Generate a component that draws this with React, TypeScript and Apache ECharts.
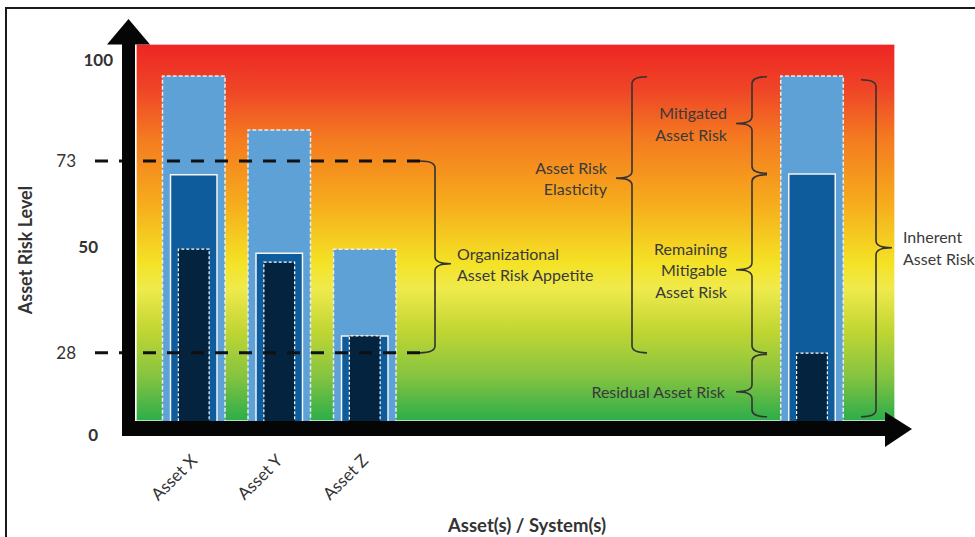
import React, { useEffect, useRef } from 'react';
import * as echarts from 'echarts';

// ---------- data ----------
const categories = ['Asset X', 'Asset Y', 'Asset Z'];
const inherentRisk = [95.9, 81.5, 49.6];
const currentRisk = [69.5, 48.5, 26.4];
const residualRisk = [49.6, 46.1, 26.4];

const exampleCategory = [''];
const exampleInherent = [95.9];
const exampleCurrent = [69.7];
const exampleResidual = [21.8];

const tickValues = [0, 21.7, 50, 73, 100];
const tickLabels = ['0', '28', '50', '73', '100'];

const appetiteLevels = [73, 21.7];

const braceLabels = [
  'Organizational\nAsset Risk Appetite',
  'Asset Risk\nElasticity',
  'Mitigated\nAsset Risk',
  'Remaining\nMitigable\nAsset Risk',
  'Residual Asset Risk',
  'Inherent\nAsset Risk',
];
const braceTop = [73, 95.5, 95.5, 69.3, 21.3, 94.7];
const braceBottom = [21.7, 21.7, 69.7, 21.7, 4.6, 4.6];
const braceTip = [45.5, 68.4, 83, 43.9, 11.3, 49.8];

// ---------- layout / style (not data) ----------
const FONT = 'Lato, "Open Sans", sans-serif';
const TEXT = '#3a3a3a';
const BRACE_LAYOUT = [
  { x: 435, dir: 1, tx: 457 },
  { x: 632, dir: -1, tx: 607 },
  { x: 752, dir: -1, tx: 727 },
  { x: 752, dir: -1, tx: 727 },
  { x: 752, dir: -1, tx: 725 },
  { x: 876, dir: 1, tx: 903 },
];
const TICK_STYLE: Record<string, string> = { '100': 't', '73': 'n', '50': 'b', '28': 'n', '0': 'b' };

const Y_MAX = 104;
const GRID_TOP = 45;
const GRID_H = 389;

const C_OUTER = '#5DA1D6';
const C_MID = '#0E5C9C';
const C_INNER = '#03233F';

function barSeries(name: string, data: number[], xi: number, yi: number, width: number, color: string, border: any) {
  return {
    name,
    type: 'bar',
    xAxisIndex: xi,
    yAxisIndex: yi,
    barWidth: width,
    data,
    z: 2,
    itemStyle: { color, ...border },
  };
}

const outerBorder = { borderColor: '#EDEDED', borderWidth: 1.5, borderType: [4, 2] };
const midBorder = { borderColor: '#F4F4F4', borderWidth: 1.5, borderType: 'solid' };
const innerBorder = { borderColor: '#FFFFFF', borderWidth: 1.2, borderType: [3, 2] };

function hiddenX(grid: number, data: string[]) {
  return { type: 'category', gridIndex: grid, data, show: false };
}

export default function App() {
  const ref = useRef<HTMLDivElement>(null);
  useEffect(() => {
    const chart = echarts.init(ref.current!, null, { renderer: 'svg' });

    const gradient = new echarts.graphic.LinearGradient(0, 0, 0, 1, [
      { offset: 0, color: '#EE2524' },
      { offset: 0.12, color: '#EF4527' },
      { offset: 0.25, color: '#F47A20' },
      { offset: 0.42, color: '#F6AB1C' },
      { offset: 0.58, color: '#F4E225' },
      { offset: 0.65, color: '#EFEA4C' },
      { offset: 0.76, color: '#C1D633' },
      { offset: 0.88, color: '#86C440' },
      { offset: 1, color: '#2BAD4A' },
    ]);

    const option: any = {
      animation: false,
      grid: [
        { left: 151, width: 256.5, top: GRID_TOP, height: GRID_H },
        { left: 780, width: 64, top: GRID_TOP, height: GRID_H },
      ],
      xAxis: [
        {
          type: 'category',
          gridIndex: 0,
          data: categories,
          axisLine: { show: false },
          axisTick: { show: false },
          splitLine: { show: false },
          axisLabel: {
            rotate: 45,
            margin: 23,
            interval: 0,
            fontSize: 17,
            fontFamily: FONT,
            color: '#333',
          },
        },
        hiddenX(0, categories),
        hiddenX(0, categories),
        hiddenX(1, exampleCategory),
        hiddenX(1, exampleCategory),
        hiddenX(1, exampleCategory),
      ],
      yAxis: [
        {
          type: 'value',
          gridIndex: 0,
          min: 0,
          max: Y_MAX,
          axisLine: { show: false },
          axisTick: { show: false },
          splitLine: { show: false },
          axisLabel: {
            customValues: tickValues,
            margin: 38,
            formatter: (v: number) => {
              const i = tickValues.findIndex((t) => Math.abs(t - v) < 1e-6);
              const lbl = i >= 0 ? tickLabels[i] : '';
              return `{${TICK_STYLE[lbl] || 'n'}|${lbl}}`;
            },
            rich: {
              t: { fontFamily: FONT, fontSize: 17, fontWeight: 'bold', color: '#333' },
              b: { fontFamily: FONT, fontSize: 17, fontWeight: 'bold', color: '#333', padding: [0, 15, 0, 0] },
              n: { fontFamily: FONT, fontSize: 17, color: '#333', padding: [0, 37, 0, 0] },
            },
          },
        },
        { type: 'value', gridIndex: 1, min: 0, max: Y_MAX, show: false },
      ],
      series: [
        barSeries('Inherent Asset Risk', inherentRisk, 0, 0, 64, C_OUTER, outerBorder),
        barSeries('Current Asset Risk', currentRisk, 1, 0, 48, C_MID, midBorder),
        barSeries('Residual Asset Risk', residualRisk, 2, 0, 32, C_INNER, innerBorder),
        barSeries('Inherent (example)', exampleInherent, 3, 1, 64, C_OUTER, outerBorder),
        barSeries('Current (example)', exampleCurrent, 4, 1, 48, C_MID, midBorder),
        barSeries('Residual (example)', exampleResidual, 5, 1, 32, C_INNER, innerBorder),
        {
          type: 'custom',
          name: 'Appetite thresholds',
          xAxisIndex: 0,
          yAxisIndex: 0,
          z: 5,
          data: appetiteLevels.map((v) => [0, v]),
          renderItem: (_p: any, api: any) => {
            const y = api.coord([0, api.value(1)])[1];
            return {
              type: 'line',
              shape: { x1: 95, y1: y, x2: 420, y2: y },
              style: { stroke: '#111', lineWidth: 3, lineDash: [13, 11] },
            };
          },
        },
        {
          type: 'custom',
          name: 'Braces',
          xAxisIndex: 0,
          yAxisIndex: 0,
          z: 5,
          data: braceTop.map((t, i) => [0, t, braceBottom[i], braceTip[i]]),
          renderItem: (params: any, api: any) => {
            const i = params.dataIndex;
            const yT = api.coord([0, api.value(1)])[1];
            const yB = api.coord([0, api.value(2)])[1];
            const yM = api.coord([0, api.value(3)])[1];
            const { x, dir, tx: textX } = BRACE_LAYOUT[i];
            const hx = x - dir * 15;
            const tx = x + dir * 16;
            const r = 7;
            const d =
              `M${hx},${yT} Q${x},${yT} ${x},${yT + r} L${x},${yM - r} ` +
              `Q${x},${yM} ${tx},${yM} Q${x},${yM} ${x},${yM + r} ` +
              `L${x},${yB - r} Q${x},${yB} ${hx},${yB}`;
            return {
              type: 'group',
              children: [
                {
                  type: 'path',
                  shape: { pathData: d },
                  style: { stroke: '#333', lineWidth: 1.6, fill: null },
                },
                {
                  type: 'text',
                  style: {
                    text: braceLabels[i],
                    x: textX,
                    y: yM,
                    align: dir === 1 ? 'left' : 'right',
                    verticalAlign: 'middle',
                    fontFamily: FONT,
                    fontSize: 16,
                    lineHeight: 21.5,
                    fill: TEXT,
                  },
                },
              ],
            };
          },
        },
      ],
      graphic: [
        {
          type: 'rect',
          z: 0,
          shape: { x: 6, y: 8, width: 1000, height: 600 },
          style: { fill: 'none', stroke: '#1a1a1a', lineWidth: 2 },
        },
        {
          type: 'rect',
          z: 0,
          shape: { x: 136, y: 44, width: 759, height: 377 },
          style: { fill: gradient, stroke: 'rgba(255,255,255,0.85)', lineWidth: 1.5 },
        },
        { type: 'rect', z: 10, shape: { x: 122, y: 44, width: 13, height: 392 }, style: { fill: '#050505' } },
        {
          type: 'polygon',
          z: 10,
          shape: { points: [[107, 44.5], [128.5, 19], [150, 44.5]] },
          style: { fill: '#050505' },
        },
        { type: 'rect', z: 10, shape: { x: 122, y: 421, width: 764, height: 15 }, style: { fill: '#050505' } },
        {
          type: 'polygon',
          z: 10,
          shape: { points: [[885, 412], [912, 429], [885, 447]] },
          style: { fill: '#050505' },
        },
        {
          type: 'text',
          z: 10,
          x: 25,
          y: 250,
          rotation: Math.PI / 2,
          style: {
            text: 'Asset Risk Level',
            fontFamily: FONT,
            fontSize: 18,
            fontWeight: 'bold',
            fill: '#333',
            align: 'center',
            verticalAlign: 'middle',
          },
        },
        {
          type: 'text',
          z: 10,
          x: 527,
          y: 525,
          style: {
            text: 'Asset(s) / System(s)',
            fontFamily: FONT,
            fontSize: 18.5,
            fontWeight: 'bold',
            fill: '#333',
            align: 'center',
            verticalAlign: 'middle',
          },
        },
      ],
    };

    chart.setOption(option);
    return () => chart.dispose();
  }, []);

  return (
    <div
      ref={ref}
      style={{ position: 'absolute', left: 0, top: 0, width: 975, height: 537, background: '#fff' }}
    />
  );
}
